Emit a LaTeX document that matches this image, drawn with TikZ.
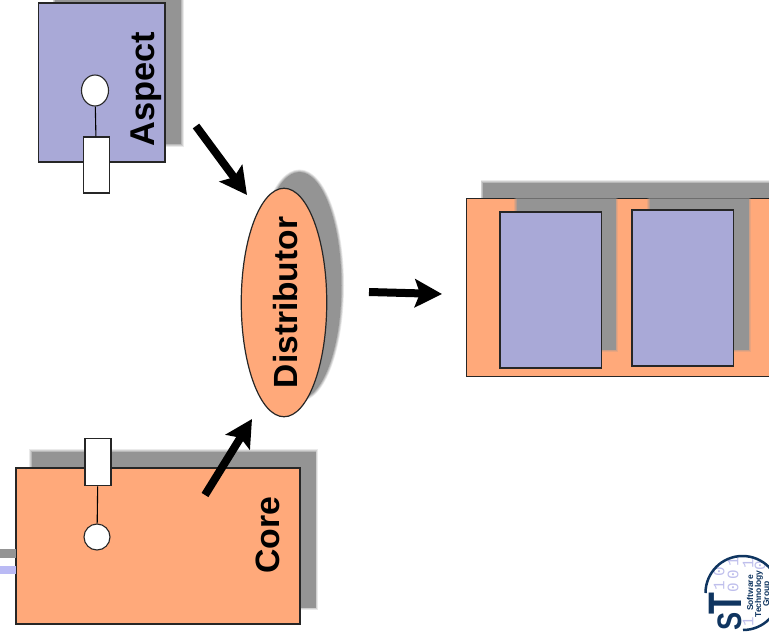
\documentclass[tikz,border=0pt]{standalone}
\usepackage{fontspec}
\setmainfont{Liberation Sans}
\setmonofont{Liberation Mono}
\usetikzlibrary{arrows.meta,shapes.geometric}

\definecolor{coreorange}{HTML}{FFA97A}
\definecolor{aspectblue}{HTML}{A9A9D7}
\definecolor{shadegray}{HTML}{949494}
\definecolor{logoblue}{HTML}{0F3560}
\definecolor{logodigit}{HTML}{BFBFEC}

\tikzset{
	box/.style={draw=black!85, line width=1.2pt, inner sep=0pt},
	dropshade/.style={inner sep=0pt, fill=shadegray,
		preaction={draw=shadegray, draw opacity=.2, line width=5pt},
		preaction={draw=shadegray, draw opacity=.3, line width=3.4pt},
		preaction={draw=shadegray, draw opacity=.4, line width=1.8pt}},
	port/.style={draw=black!85, fill=white, line width=1.1pt, inner sep=0pt},
	flow/.style={line width=8pt, -{Stealth[length=27pt,width=28pt,inset=5pt]}},
	caption/.style={rotate=90, font=\bfseries\fontsize{33.5}{33.5}\selectfont, inner sep=0pt},
	digit/.style={rotate=90, text=logodigit, font=\ttfamily\fontsize{16}{16}\selectfont, inner sep=0pt},
	logotext/.style={rotate=90, text=logoblue, font=\bfseries\fontsize{8.5}{8.5}\selectfont, inner sep=0pt}
}

\begin{document}
\begin{tikzpicture}[x=1pt,y=-1pt]
	\useasboundingbox (0,0) rectangle (769,637);
	\clip (0,0) rectangle (769,637);

	% aspect
	\node [dropshade, minimum width=126pt, minimum height=158pt] (aspectshade) at (118,65) {};
	\node [box, fill=aspectblue, minimum width=126.5pt, minimum height=159pt] (aspect) at (101.75,82.5) {};
	\node [caption, font=\bfseries\fontsize{34.4}{34.4}\selectfont] (aspectlabel) at (146.5,89) {Aspect};
	\node [port, ellipse, minimum width=27pt, minimum height=31pt] (aspectcircle) at (95,90.5) {};
	\node [port, minimum width=26pt, minimum height=56pt] (aspectpin) at (96.5,165) {};
	\draw [line width=1.1pt] (aspectcircle) -- (aspectpin);

	% core
	\node [dropshade, minimum width=284pt, minimum height=156pt] (coreshade) at (173.5,529.5) {};
	\node [box, fill=coreorange, minimum width=284pt, minimum height=156pt] (core) at (158,546) {};
	\node [caption, font=\bfseries\fontsize{33.8}{33.8}\selectfont] (corelabel) at (268,535) {Core};
	\fill [shadegray] (0,549) rectangle (15.5,558);
	\fill [aspectblue!60!blue!45] (0,566) rectangle (15.5,574);
	\node [port, circle, minimum size=26pt] (corecircle) at (97,537) {};
	\node [port, minimum width=26pt, minimum height=47.5pt] (corepin) at (98,462) {};
	\draw [line width=1.1pt] (corecircle) -- (corepin);

	% distributor
	\node [dropshade, ellipse, minimum width=84pt, minimum height=227pt] (distshade) at (299.5,285.5) {};
	\node [box, ellipse, fill=coreorange, minimum width=85.5pt, minimum height=228.5pt] (distributor) at (284,302.5) {};
	\node [caption] (distlabel) at (285.5,302.5) {Distributor};

	% woven result
	\node [dropshade, minimum width=320pt, minimum height=176pt] (resultshade) at (643,270.5) {};
	\node [box, fill=coreorange, minimum width=320pt, minimum height=177.5pt] (result) at (626.5,287.5) {};
	\node [dropshade, minimum width=99pt, minimum height=151pt] (leftshade) at (566,274) {};
	\node [dropshade, minimum width=99pt, minimum height=151pt] (rightshade) at (699,274) {};
	\node [box, fill=aspectblue, minimum width=101.5pt, minimum height=156pt] (leftpart) at (550.75,290) {};
	\node [box, fill=aspectblue, minimum width=101.5pt, minimum height=156pt] (rightpart) at (682.75,288) {};

	% arrows
	\coordinate (aspectout) at (196,126);
	\coordinate (aspectin) at (247,195);
	\coordinate (coreout) at (205,495);
	\coordinate (corein) at (252,419);
	\coordinate (distout) at (369,292);
	\coordinate (resultin) at (442,294);
	\draw [flow] (aspectout) -- (aspectin);
	\draw [flow] (coreout) -- (corein);
	\draw [flow] (distout) -- (resultin);

	% logo
	\foreach \dx/\dy/\dtext in {719/586/1, 719/572/0, 733/588/0, 733/575/0, 733/562/1, 748/622/1, 748/564/1, 760/566/0} {
		\node [digit] at (\dx,\dy) {\dtext};
	}
	\draw [logoblue, line width=2.5pt] (705.5,593) arc [start angle=180, end angle=0, radius=37pt];
	\draw [logoblue, line width=2.5pt] (743,630) arc [start angle=270, end angle=360, radius=37pt];
	\node [rotate=90, xscale=.76, text=logoblue, inner sep=0pt, font=\bfseries\fontsize{47}{47}\selectfont] (logot) at (725,604) {T};
	\node [rotate=90, xscale=.8, text=logoblue, inner sep=0pt, font=\bfseries\fontsize{34}{34}\selectfont] (logos) at (729.5,621.5) {S};
	\node [logotext] (logosoftware) at (750,593) {Software};
	\node [logotext] (logotechnology) at (759,594) {Technology};
	\node [logotext] (logogroup) at (767,594) {Group};
\end{tikzpicture}
\end{document}
